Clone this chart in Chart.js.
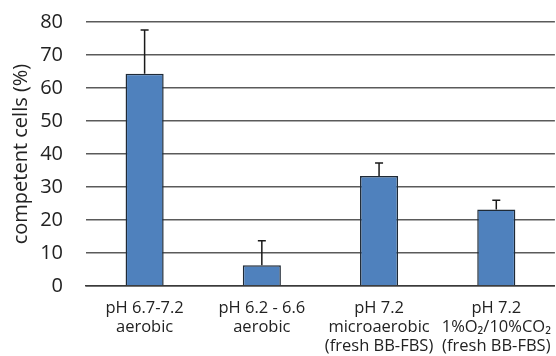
<!DOCTYPE html>
<html>
<head>
<meta charset="utf-8">
<script src="https://cdn.jsdelivr.net/npm/chart.js@4"></script>
<style>
  html, body { margin: 0; padding: 0; background: #fff; }
  #wrap { width: 556px; height: 356px; }
</style>
</head>
<body>
<div id="wrap"><canvas id="chart" width="556" height="356"></canvas></div>
<script>
// Competence by growth condition, mean with upper error bar.
const conditionLabels = [
  ['pH 6.7-7.2', 'aerobic'],
  ['pH 6.2 - 6.6', 'aerobic'],
  ['pH 7.2', 'microaerobic', '(fresh BB-FBS)'],
  ['pH 7.2', '1%O\u2082/10%CO\u2082', '(fresh BB-FBS)'],
];
const competentPct = [64.3, 6.3, 33.3, 23.2];
const errorPct = [13.3, 7.4, 4.0, 2.8];
const yTicks = [0, 10, 20, 30, 40, 50, 60, 70, 80];

const FONT = '"Open Sans", sans-serif';

// draws only the upper half of each error bar (the lower half sits inside the bar)
const errorBarPlugin = {
  id: 'errorBars',
  afterDatasetsDraw(chart) {
    const ctx = chart.ctx;
    const yScale = chart.scales.y;
    const meta = chart.getDatasetMeta(0);
    ctx.save();
    ctx.strokeStyle = '#1a1a1a';
    ctx.lineWidth = 1.5;
    meta.data.forEach((bar, i) => {
      const yTop = yScale.getPixelForValue(competentPct[i] + errorPct[i]);
      const yBase = yScale.getPixelForValue(competentPct[i]);
      ctx.beginPath();
      ctx.moveTo(bar.x, yBase);
      ctx.lineTo(bar.x, yTop);
      ctx.moveTo(bar.x - 4, yTop);
      ctx.lineTo(bar.x + 4, yTop);
      ctx.stroke();
    });
    ctx.restore();
  },
};

new Chart(document.getElementById('chart'), {
  type: 'bar',
  data: {
    labels: conditionLabels,
    datasets: [{
      data: competentPct,
      backgroundColor: '#4f81bd',
      borderColor: '#1f2a36',
      borderWidth: 1.5,
      barPercentage: 0.325,
      categoryPercentage: 1,
    }],
  },
  options: {
    responsive: false,
    animation: false,
    devicePixelRatio: 1,
    layout: { padding: { top: 22, right: 1, left: 0, bottom: 0 } },
    plugins: { legend: { display: false }, tooltip: { enabled: false } },
    scales: {
      x: {
        grid: { display: false },
        border: { display: true, color: '#3a3a3a', width: 1.5 },
        ticks: {
          color: '#222',
          font: { family: FONT, size: 16.5, lineHeight: 1.15 },
          padding: 5,
          maxRotation: 0,
          autoSkip: false,
        },
        afterFit(scale) { scale.height = 70; },
      },
      y: {
        min: 0,
        max: 80,
        afterBuildTicks(scale) { scale.ticks = yTicks.map((v) => ({ value: v })); },
        // invisible tick marks give the label gap without pushing the plot top down
        grid: { color: '#5a5a5a', lineWidth: 1.5, drawTicks: true, tickLength: 20, tickColor: 'rgba(0,0,0,0)' },
        border: { display: false },
        ticks: {
          color: '#222',
          font: { family: FONT, size: 20 },
          padding: 3,
        },
        title: {
          display: true,
          text: 'competent cells (%)',
          color: '#222',
          font: { family: FONT, size: 20 },
          padding: { top: 9, bottom: 0 },
        },
        afterFit(scale) { scale.width = 86; },
      },
    },
  },
  plugins: [errorBarPlugin],
});
</script>
</body>
</html>
